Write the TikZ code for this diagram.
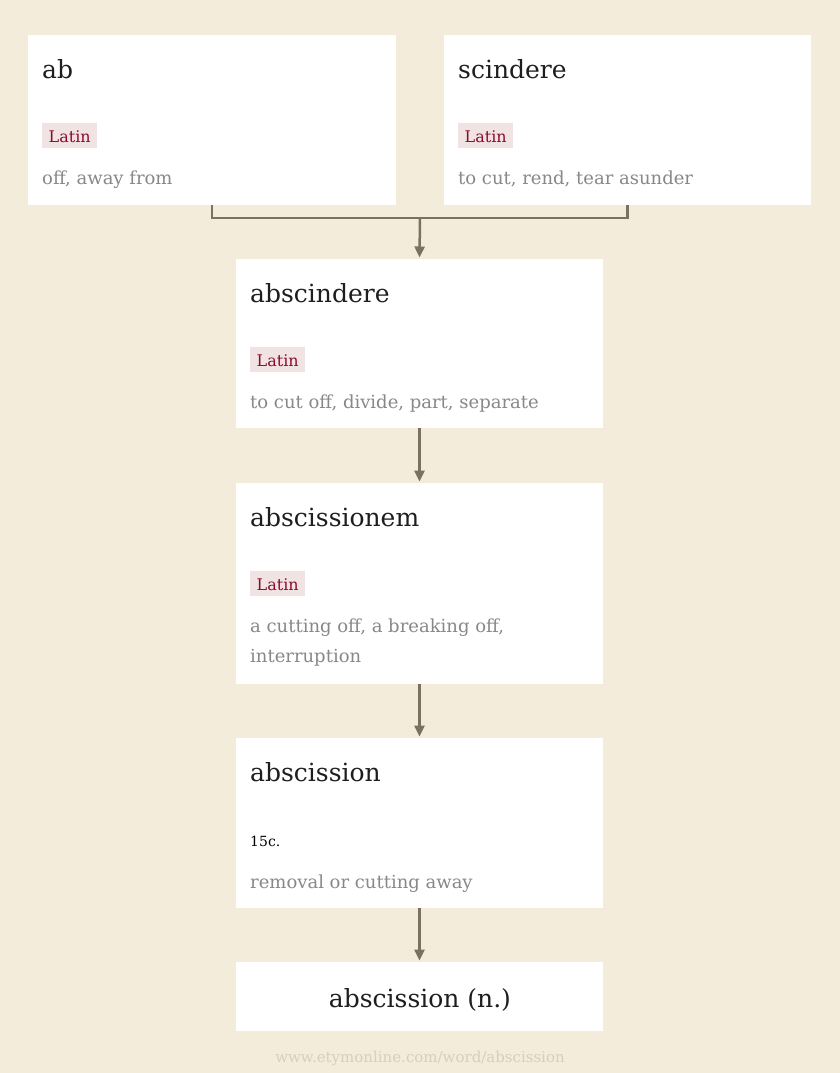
\documentclass[tikz,border=0pt]{standalone}
\usepackage{fontspec}
\setmainfont{DejaVu Serif}
\usetikzlibrary{arrows.meta}
\definecolor{bgc}{HTML}{F3ECDB}
\definecolor{conncol}{HTML}{7A725F}
\definecolor{titlecol}{HTML}{1E1E1E}
\definecolor{defcol}{HTML}{888888}
\definecolor{tagfill}{HTML}{F1E2E4}
\definecolor{tagtext}{HTML}{8A0C2C}
\definecolor{footcol}{HTML}{D6CEBE}
\tikzset{
  box/.style={fill=white, draw=none, inner sep=0pt, outer sep=0pt, anchor=north west},
  conn/.style={draw=conncol, line width=2.5pt},
  arr/.style={conn, -{Triangle[length=11pt,width=10pt]}},
  wtitle/.style={anchor=base west, inner sep=0pt, text=titlecol, font=\fontsize{25}{30}\selectfont},
  wdef/.style={anchor=base west, inner sep=0pt, text=defcol, font=\fontsize{18}{30}\selectfont},
  wtag/.style={anchor=west, fill=tagfill, text=tagtext, font=\fontsize{16}{20}\selectfont,
    inner xsep=6.5pt, inner ysep=6pt, text height=13pt, text depth=0pt, minimum height=25pt},
  wdate/.style={anchor=base west, inner sep=0pt, text=black, font=\fontsize{14}{20}\selectfont},
  wfoot/.style={anchor=base, inner sep=0pt, text=footcol, font=\fontsize{15}{20}\selectfont}
}
\begin{document}
\begin{tikzpicture}[x=1pt,y=-1pt]
\fill[bgc] (0,0) rectangle (840,1073);
\useasboundingbox (0,0) rectangle (840,1073);
% boxes
\node[box, minimum width=368pt, minimum height=170pt] (ab) at (28,35) {};
\node[box, minimum width=367pt, minimum height=170pt] (scindere) at (444,35) {};
\node[box, minimum width=367pt, minimum height=169pt] (abscindere) at (236,259) {};
\node[box, minimum width=367pt, minimum height=201pt] (abscissionem) at (236,483) {};
\node[box, minimum width=367pt, minimum height=170pt] (abscission) at (236,738) {};
\node[box, minimum width=367pt, minimum height=69pt] (final) at (236,962) {};
% ab
\node[wtitle] (t1) at (42,78) {ab};
\node[wtag] (g1) at (42,135.5) {Latin};
\node[wdef] (d1) at (42,184) {off, away from};
% scindere
\node[wtitle] (t2) at (458,78) {scindere};
\node[wtag] (g2) at (458,135.5) {Latin};
\node[wdef] (d2) at (458,184) {to cut, rend, tear asunder};
% abscindere
\node[wtitle] (t3) at (250,302) {abscindere};
\node[wtag] (g3) at (250,359.5) {Latin};
\node[wdef] (d3) at (250,408) {to cut off, divide, part, separate};
% abscissionem
\node[wtitle] (t4) at (250,526) {abscissionem};
\node[wtag] (g4) at (250,583.5) {Latin};
\node[wdef] (d4) at (250,632) {a cutting off, a breaking off,};
\node[wdef] (d4b) at (250,662) {interruption};
% abscission
\node[wtitle] (t5) at (250,781) {abscission};
\node[wdate] (y5) at (250,846) {15c.};
\node[wdef] (d5) at (250,888) {removal or cutting away};
% final
\node[wtitle, anchor=base] (t6) at (420,1007) {abscission (n.)};
% footer
\node[wfoot] (foot) at (420,1062) {www.etymonline.com/word/abscission};
% connectors
\coordinate (j) at (420,218);
\draw[conn] (ab.south) |- (j) -| (scindere.south);
\draw[arr] (j) -- ([yshift=1.5pt]abscindere.north);
\draw[arr] (abscindere.south) -- ([yshift=1.5pt]abscissionem.north);
\draw[arr] (abscissionem.south) -- ([yshift=1.5pt]abscission.north);
\draw[arr] (abscission.south) -- ([yshift=1.5pt]final.north);
\end{tikzpicture}
\end{document}
